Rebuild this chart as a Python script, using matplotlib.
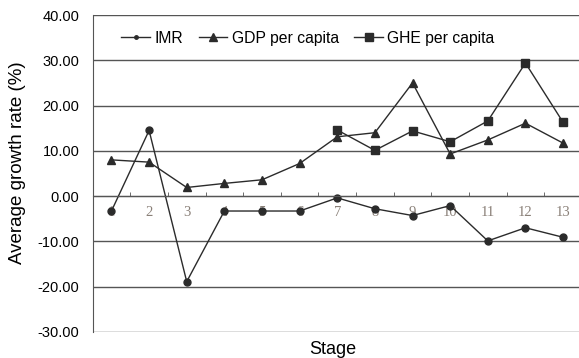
import matplotlib.pyplot as plt
from matplotlib.lines import Line2D
import numpy as np

# stages and growth rates
stages = list(range(1, 14))
imr = [-3.3, 14.5, -18.9, -3.3, -3.3, -3.3, -0.4, -2.8, -4.3, -2.1, -9.9, -7.0, -9.1]
gdp = [8.0, 7.5, 1.9, 2.8, 3.6, 7.2, 13.1, 14.0, 25.0, 9.3, 12.4, 16.1, 11.7]
ghe = [np.nan] * 6 + [14.6, 10.1, 14.4, 12.0, 16.6, 29.4, 16.3]
yticks = [-30, -20, -10, 0, 10, 20, 30, 40]

plt.rcParams['font.family'] = ['Liberation Sans', 'DejaVu Sans']

fig = plt.figure(figsize=(5.79, 3.58), dpi=100)
ax = fig.add_axes([0.160, 0.073, 0.845, 0.885])

lc = '#2b2b2b'
ax.plot(stages, imr, color=lc, lw=1, marker='o', ms=5)
ax.plot(stages, gdp, color=lc, lw=1, marker='^', ms=6)
ax.plot(stages, ghe, color=lc, lw=1, marker='s', ms=5.5)

ax.set_xlim(0.5, 13.5)
ax.set_ylim(-30, 40)
ax.set_yticks(yticks)
ax.set_yticklabels(['%.2f' % v for v in yticks], fontsize=10.5)
ax.tick_params(axis='y', length=0, pad=9.5)

# gridlines every 10
for v in yticks:
    ax.axhline(v, color='#555555', lw=1, zorder=0)

ax.spines['right'].set_visible(False)
ax.spines['top'].set_visible(False)
ax.spines['left'].set_color('#555555')
ax.spines['bottom'].set_position(('data', 0))
ax.spines['bottom'].set_color('#555555')

ax.set_xticks(stages)
ax.set_xticklabels([str(s) for s in stages], family=['Liberation Serif', 'DejaVu Serif'],
                   fontsize=10.5, color='#8a8078')
ax.set_xticks(np.arange(1.5, 13, 1), minor=True)
ax.tick_params(axis='x', which='major', length=0, pad=7.5)
ax.tick_params(axis='x', which='minor', direction='in', length=3, color='#555555')

fig.text(18 / 579, 0.545, 'Average growth rate (%)', fontsize=13.5, rotation=90,
         ha='center', va='center')
fig.text(0.574, 0.025, 'Stage', fontsize=13, ha='center', va='center')

handles = [
    Line2D([], [], color=lc, lw=1, marker='o', ms=2.5),
    Line2D([], [], color=lc, lw=1, marker='^', ms=6),
    Line2D([], [], color=lc, lw=1, marker='s', ms=5.5),
]
ax.legend(handles, ['IMR', 'GDP per capita', 'GHE per capita'], ncol=3, frameon=False,
          loc='upper left', bbox_to_anchor=(0.03, 0.995), fontsize=11.3,
          handlelength=1.8, handletextpad=0.3, columnspacing=1.0)

fig.savefig('out.png', dpi=100)
